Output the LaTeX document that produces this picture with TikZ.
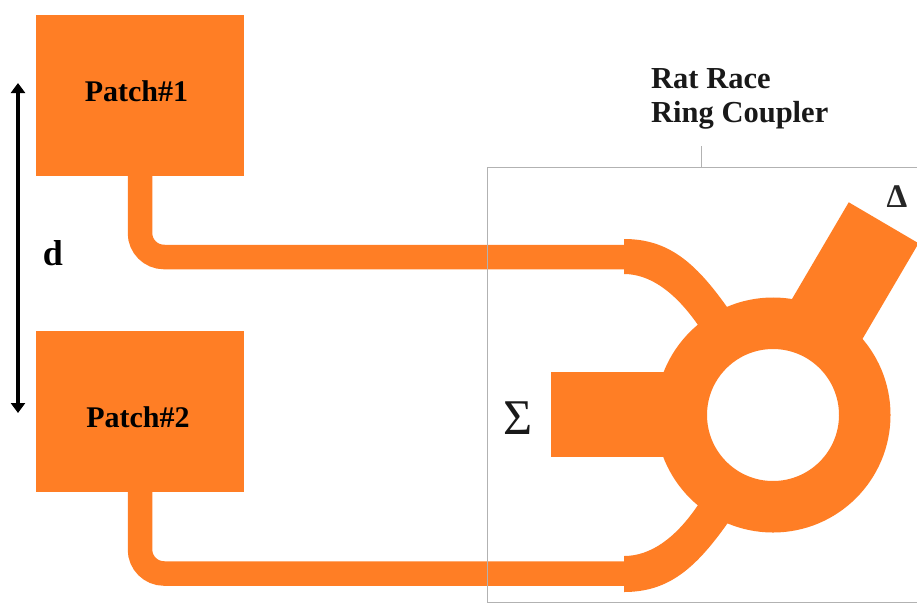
\documentclass[tikz,border=0pt]{standalone}
\usepackage{fontspec}
\setmainfont{Liberation Serif}
\usetikzlibrary{arrows.meta}
\definecolor{patchorange}{HTML}{FF7E25}
\definecolor{framegray}{HTML}{B2B2B2}
\tikzset{
  patchbox/.style={fill=patchorange,draw=none,minimum width=208pt,minimum height=161pt,inner sep=0pt,outer sep=0pt},
  stubbox/.style={fill=patchorange,draw=none,inner sep=0pt,outer sep=0pt},
  feedline/.style={draw=patchorange,line width=24.5pt,rounded corners=24pt},
  hybridarm/.style={fill=patchorange,draw=none},
  ringshape/.style={circle,draw=patchorange,fill=white,line width=51.5pt,minimum size=183.5pt,inner sep=0pt,outer sep=0pt},
  framebox/.style={draw=framegray,line width=1pt},
  patchtext/.style={font=\fontsize{30}{32}\selectfont\bfseries,text=black},
  titletext/.style={font=\fontsize{30.5}{34}\selectfont\bfseries,text=black!90,align=left,anchor=west,inner sep=0pt},
  dimarrow/.style={draw=black,line width=3.4pt,{Triangle[length=10pt,width=14pt]}-{Triangle[length=10pt,width=14pt]}},
}
\begin{document}
\begin{tikzpicture}[x=1pt,y=-1pt]
\useasboundingbox (0,0) rectangle (917,603);
\clip (0,0) rectangle (917,603);
\fill[white] (0,0) rectangle (917,603);
% patches
\node[patchbox,label={[patchtext,xshift=-3.5pt,yshift=4pt]center:Patch\#1}] (patch1) at (140,95.5) {};
\node[patchbox,label={[patchtext,xshift=-2pt,yshift=-6pt]center:Patch\#2}] (patch2) at (140,411.5) {};
% ports
\coordinate (port1) at (626,257);
\coordinate (port2) at (626,573.5);
% feeds
\draw[feedline] (patch1.south) |- (port1);
\draw[feedline] (patch2.south) |- (port2);
% hybrid arms
\fill[hybridarm] (624,239) .. controls (668,239) and (695,262) .. (727,307) -- (750,336) -- (720,352) -- (698,325) .. controls (675,292) and (650,274) .. (624,274) -- cycle;
\fill[hybridarm] (624,592) .. controls (668,592) and (695,569) .. (727,524) -- (750,495) -- (720,479) -- (698,505) .. controls (675,539) and (650,556) .. (624,556) -- cycle;
% stubs
\node[stubbox,minimum width=139pt,minimum height=85pt] (sumstub) at (620.5,414.5) {};
\node[stubbox,minimum width=81pt,minimum height=135pt,rotate=-30.4] (diffstub) at (849.5,281) {};
% ring
\node[ringshape] (ring) at (773,415) {};
% frame
\draw[framebox] (487,167) rectangle (925,602);
\node[titletext] (title) at (651,99) {Rat Race\\Ring Coupler};
\coordinate (ticktop) at (701,146);
\coordinate (tickbot) at (701,167);
\draw[framebox] (ticktop) -- (tickbot);
% dimension
\coordinate (dimtop) at (18,83);
\coordinate (dimbot) at (18,413);
\draw[dimarrow] (dimtop) -- (dimbot);
\node[font=\fontsize{36}{40}\selectfont\bfseries,inner sep=0pt] (dlabel) at (53,253) {d};
\node[font=\fontsize{50}{54}\selectfont,inner sep=0pt,text=black!90] (sumlabel) at (518,418) {Σ};
\node[font=\fontsize{33}{36}\selectfont\bfseries,inner sep=0pt,text=black!85] (difflabel) at (897,197) {Δ};
\end{tikzpicture}
\end{document}
